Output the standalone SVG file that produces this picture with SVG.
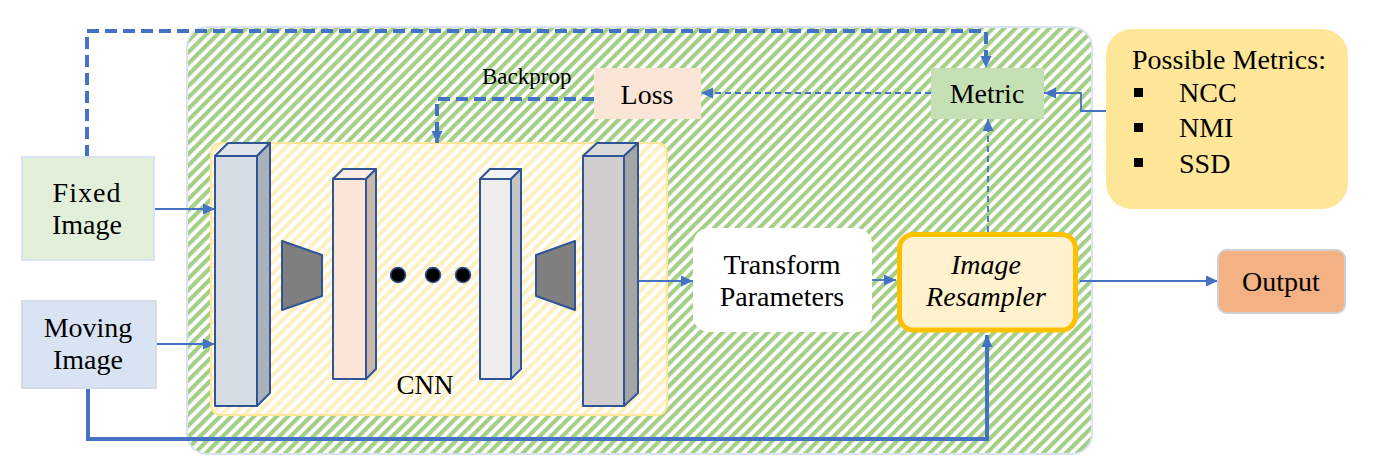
<svg xmlns="http://www.w3.org/2000/svg" width="1395" height="468" viewBox="0 0 1395 468" font-family="'Liberation Serif', 'Times New Roman', Times, serif">
<style>
text{font-family:'Liberation Serif','Times New Roman',Times,serif;fill:#000}
.lbl{font-size:28px;text-anchor:middle}
.it{font-style:italic}
.blk{stroke:#2f5597;stroke-width:2;stroke-linejoin:round}
.c{fill:none;stroke:#4472c4}
.thick{stroke-width:4}
.dash{stroke-dasharray:12 6}
.thin{stroke-width:1.8}
.tdash{stroke-dasharray:6 4}
</style>
<defs>
<pattern id="hg" patternUnits="userSpaceOnUse" width="8" height="8" patternTransform="rotate(45)">
<rect width="8" height="8" fill="#fff"/>
<rect width="4.2" height="8" fill="#a5cf88"/>
</pattern>
<pattern id="hy" patternUnits="userSpaceOnUse" width="8" height="8" patternTransform="rotate(45)">
<rect width="8" height="8" fill="#fff"/>
<rect width="4.2" height="8" fill="#fff0c4"/>
</pattern>
<marker id="ar" markerUnits="userSpaceOnUse" markerWidth="12" markerHeight="12" refX="12" refY="5.5" orient="auto">
<path d="M0,0 L12,5.5 L0,11 z" fill="#4472c4"/>
</marker>
</defs>

<g id="container">
<rect x="187" y="27" width="905" height="427" rx="20" fill="url(#hg)" stroke="#dae3f3" stroke-width="2"/>
</g>

<g id="cnn">
<rect x="211" y="143" width="456" height="272" rx="10" fill="url(#hy)" stroke="#ffe699" stroke-width="2"/>
<text x="425" y="394" font-size="27" text-anchor="middle">CNN</text>
</g>

<g id="connectors">
<path class="c thick dash" d="M87,157 V31 H986 V68" marker-end="url(#ar)"/>
<path class="c thick dash" d="M594,99 H437 V143" marker-end="url(#ar)"/>
<path class="c thin tdash" d="M931,93 H701" marker-end="url(#ar)"/>
<path class="c thin tdash" d="M988,232 V119" marker-end="url(#ar)"/>
<path class="c thin" d="M1118,111 H1081 V93 H1044" marker-end="url(#ar)"/>
<path class="c thin" d="M154,209 H215" marker-end="url(#ar)"/>
<path class="c thin" d="M156,344 H215" marker-end="url(#ar)"/>
<path class="c thick" d="M88,388 V439 H987 V335" marker-end="url(#ar)"/>
<path class="c thin" d="M638,281 H693" marker-end="url(#ar)"/>
<path class="c thin" d="M872,280 H896" marker-end="url(#ar)"/>
<path class="c thin" d="M1080,281 H1218" marker-end="url(#ar)"/>
</g>

<g id="block1">
<polygon class="blk" points="215,156 228,143 270,143 257,156" fill="#dfe3ea"/>
<polygon class="blk" points="257,156 270,143 270,393 257,406" fill="#acb2bc"/>
<rect class="blk" x="215" y="156" width="42" height="250" fill="#d6dce4"/>
</g>
<g id="pool1">
<polygon class="blk" points="282,241 322,255 322,296 282,310" fill="#7f7f7f"/>
</g>
<g id="block2">
<polygon class="blk" points="333,179 343,169 376,169 366,179" fill="#fcebe0"/>
<polygon class="blk" points="366,179 376,169 376,369 366,379" fill="#c9b9ad"/>
<rect class="blk" x="333" y="179" width="33" height="200" fill="#fbe5d6"/>
</g>
<g id="dots">
<circle cx="398" cy="275" r="7.5" fill="#000" stroke="#2f5597" stroke-width="1.5"/>
<circle cx="433" cy="275" r="7.5" fill="#000" stroke="#2f5597" stroke-width="1.5"/>
<circle cx="463" cy="275" r="7.5" fill="#000" stroke="#2f5597" stroke-width="1.5"/>
</g>
<g id="block3">
<polygon class="blk" points="480,179 490,169 521,169 511,179" fill="#f2f2f2"/>
<polygon class="blk" points="511,179 521,169 521,369 511,379" fill="#c4c4c4"/>
<rect class="blk" x="480" y="179" width="31" height="200" fill="#ededed"/>
</g>
<g id="pool2">
<polygon class="blk" points="575,241 536,255 536,296 575,310" fill="#7f7f7f"/>
</g>
<g id="block4">
<polygon class="blk" points="583,156 597,143 638,143 624,156" fill="#dadada"/>
<polygon class="blk" points="624,156 638,143 638,393 624,406" fill="#a5a5a5"/>
<rect class="blk" x="583" y="156" width="41" height="250" fill="#d0cece"/>
</g>

<g id="fixed">
<rect x="22" y="157" width="132" height="103" fill="#e2f0d9" stroke="#dae3f3" stroke-width="2"/>
<text class="lbl" x="87" y="202" letter-spacing="1">Fixed</text>
<text class="lbl" x="87" y="234">Image</text>
</g>
<g id="moving">
<rect x="22" y="301" width="134" height="87" fill="#dae3f3" stroke="#d6dce5" stroke-width="2"/>
<text class="lbl" x="88" y="337">Moving</text>
<text class="lbl" x="88" y="369">Image</text>
</g>

<g id="backprop">
<text x="482" y="84" font-size="23">Backprop</text>
</g>
<g id="loss">
<rect x="594" y="68" width="107" height="51" fill="#fbe5d6"/>
<text class="lbl" x="647" y="104">Loss</text>
</g>
<g id="metric">
<rect x="931" y="68" width="113" height="51" fill="#c5e0b4"/>
<text class="lbl" x="987" y="103">Metric</text>
</g>
<g id="possible-metrics">
<rect x="1106" y="29" width="242" height="180" rx="26" fill="#ffe699"/>
<text x="1132" y="69" font-size="28" textLength="194">Possible Metrics:</text>
<rect x="1134" y="88" width="9" height="9" fill="#000"/>
<rect x="1134" y="123" width="9" height="9" fill="#000"/>
<rect x="1134" y="158" width="9" height="9" fill="#000"/>
<text x="1179" y="102" font-size="28">NCC</text>
<text x="1179" y="137" font-size="28">NMI</text>
<text x="1179" y="173" font-size="28">SSD</text>
</g>
<g id="transform">
<rect x="693" y="228" width="179" height="104" rx="16" fill="#fff"/>
<text class="lbl" x="782" y="274">Transform</text>
<text class="lbl" x="782" y="306">Parameters</text>
</g>
<g id="resampler">
<rect x="899.5" y="234.5" width="176" height="95.5" rx="14" fill="#fff2cc" stroke="#ffc000" stroke-width="5"/>
<text class="lbl it" x="986" y="274">Image</text>
<text class="lbl it" x="986" y="306">Resampler</text>
</g>
<g id="output">
<rect x="1218" y="250" width="127" height="63" rx="9" fill="#f4b183" stroke="#d0cece" stroke-width="2"/>
<text class="lbl" x="1281" y="291">Output</text>
</g>
</svg>
